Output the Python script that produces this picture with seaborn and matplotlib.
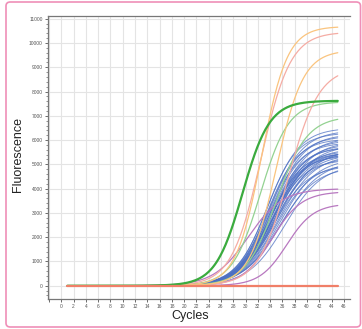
import numpy as np
import pandas as pd
import matplotlib
matplotlib.use("Agg")
import matplotlib.pyplot as plt
from matplotlib.patches import FancyBboxPatch
from matplotlib.ticker import MultipleLocator, FixedLocator
import seaborn as sns

# ---- data (per-well amplification parameters) ----
cycles = np.arange(1, 46)

# group: (plateau, midpoint cycle, slope)
green_thick_plateau = [7620]
green_thick_mid = [29.5]
green_thick_slope = [2.2]

green_plateau = [7580, 6980]
green_mid = [32.4, 35.0]
green_slope = [2.3, 2.5]

orange_plateau = [10680, 9700]
orange_mid = [32.6, 35.0]
orange_slope = [2.1, 2.2]

pink_plateau = [10450, 9000]
pink_mid = [32.5, 37.0]
pink_slope = [2.4, 2.5]

purple_plateau = [4000, 3880, 3380]
purple_mid = [30.4, 34.3, 36.7]
purple_slope = [2.8, 2.4, 2.2]

blue_plateau = [6500, 6400, 6300, 6250, 6170, 6100, 6050, 6000, 5950, 5900,
                5850, 5800, 5750, 5700, 5650, 5600, 5560, 5520, 5500, 5480,
                5460, 5440, 5420, 5400, 5360, 5300, 5250, 5200, 5150, 5050,
                5000, 4950, 4900]
blue_mid = [33.6, 33.9, 33.4, 34.2, 33.8, 34.5, 33.5, 34.0, 34.8, 33.7,
            34.3, 35.0, 34.1, 33.9, 34.6, 35.2, 34.0, 34.4, 34.2, 33.9,
            34.6, 34.3, 34.8, 35.3, 33.8, 34.7, 35.6, 34.1, 35.9, 35.1,
            36.4, 34.5, 35.5]
blue_slope = [2.6, 2.7, 2.5, 2.7, 2.6, 2.8, 2.5, 2.7, 2.9, 2.6,
              2.8, 2.9, 2.7, 2.6, 2.8, 3.0, 2.7, 2.8, 2.7, 2.6,
              2.8, 2.7, 2.9, 3.0, 2.6, 2.9, 3.0, 2.7, 3.1, 2.9,
              3.0, 2.8, 3.0]

baseline_value = 0

groups = {
    "blue": (blue_plateau, blue_mid, blue_slope),
    "purple": (purple_plateau, purple_mid, purple_slope),
    "green": (green_plateau, green_mid, green_slope),
    "pink": (pink_plateau, pink_mid, pink_slope),
    "orange": (orange_plateau, orange_mid, orange_slope),
    "green_thick": (green_thick_plateau, green_thick_mid, green_thick_slope),
}

rows = []
for g, (pl, md, sl) in groups.items():
    for i, (p, m, s) in enumerate(zip(pl, md, sl)):
        c = np.linspace(1, 45, 300)
        f = p / (1 + np.exp(-(c - m) / s))
        f = f - p / (1 + np.exp(-(1 - m) / s))
        for ci, fi in zip(c, f):
            rows.append((f"{g}_{i}", g, ci, fi))
df = pd.DataFrame(rows, columns=["well", "group", "cycle", "fluor"])

styles = {
    "blue": ("#4d70c3", 0.7, 0.75),
    "purple": ("#b878c0", 0.9, 1.0),
    "green": ("#93d291", 0.9, 1.0),
    "pink": ("#f5aca4", 0.9, 1.0),
    "orange": ("#fac47e", 0.9, 1.0),
    "green_thick": ("#3aab3e", 1.6, 1.0),
}

fig = plt.figure(figsize=(3.62, 3.29), dpi=100)
sns.set_style("white")
plt.rcParams["font.family"] = ["Liberation Sans", "DejaVu Sans"]

ax = fig.add_axes([0.132, 0.091, 0.835, 0.861])

for well, sub in df.groupby("well", sort=False):
    g = sub["group"].iloc[0]
    col, lw, a = styles[g]
    sns.lineplot(data=sub, x="cycle", y="fluor", ax=ax, color=col,
                 linewidth=lw, alpha=a, estimator=None, sort=False, legend=False)

base = pd.DataFrame({"cycle": cycles, "fluor": np.full(len(cycles), baseline_value)})
sns.lineplot(data=base, x="cycle", y="fluor", ax=ax, color="#f07f68",
             linewidth=1.6, zorder=5, legend=False)

ax.set_xlim(-2.2, 47)
ax.set_ylim(-550, 11120)
ax.xaxis.set_major_locator(FixedLocator(np.arange(-2, 47, 2)))
ax.set_xticklabels([""] + [str(v) for v in range(0, 47, 2)])
ax.yaxis.set_minor_locator(MultipleLocator(200))
ax.set_yticks(np.arange(0, 11001, 1000))
ax.set_yticklabels([str(v) for v in range(0, 11001, 1000)])

ax.grid(True, which="major", color="#e4e4e4", linewidth=0.8)
ax.set_axisbelow(True)
ax.tick_params(axis="both", which="major", labelsize=3.5, length=2.5, width=0.6,
               colors="#555555", pad=1.2, direction="out", left=True, bottom=True)
ax.tick_params(axis="y", which="minor", length=1.3, width=0.5, color="#666666", left=True)
for s in ["left", "bottom", "top"]:
    ax.spines[s].set_color("#777777")
    ax.spines[s].set_linewidth(0.9)
ax.spines["right"].set_visible(False)
ax.set_xlabel("")
ax.set_ylabel("")

fig.text(18 / 362, 1 - 154 / 329, "Fluorescence", rotation=90, ha="center",
         va="center", fontsize=9, color="#222222")
fig.text(190 / 362, 1 - 316 / 329, "Cycles", ha="center", va="center",
         fontsize=9, color="#222222")

border = FancyBboxPatch((6 / 362, 2 / 329), 354.5 / 362, 325 / 329,
                        boxstyle="round,pad=0,rounding_size=0.012",
                        transform=fig.transFigure, fill=False,
                        edgecolor="#ef8fb8", linewidth=1.2)
fig.patches.append(border)

fig.savefig("out.png", dpi=100)
